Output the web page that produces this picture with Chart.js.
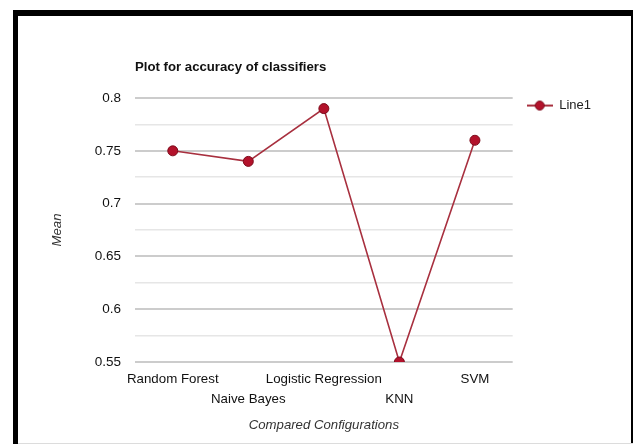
<!DOCTYPE html>
<html>
<head>
<meta charset="utf-8">
<script src="https://cdn.jsdelivr.net/npm/chart.js@4.4.1/dist/chart.umd.min.js"></script>
<style>
  html, body { margin: 0; padding: 0; background: #fff; }
  #wrap { position: relative; width: 633px; height: 444px; overflow: hidden; background: #fff; }
  #c { position: absolute; left: 0; top: 0; }
  #frame { position: absolute; left: 13px; top: 10px; width: 623px; height: 440px; box-sizing: border-box;
           border: 5px solid #000; border-top-width: 6px; border-bottom: none; pointer-events: none; }
  #base { position: absolute; left: 18px; top: 443px; width: 615px; height: 1px; background: #dcdcdc; }
</style>
</head>
<body>
<div id="wrap">
  <canvas id="c" width="633" height="444"></canvas>
  <div id="frame"></div>
  <div id="base"></div>
</div>
<script>
// Classifiers compared and their mean accuracy
const categories = ['Random Forest', 'Naive Bayes', 'Logistic Regression', 'KNN', 'SVM'];
const meanAccuracy = [0.75, 0.74, 0.79, 0.55, 0.76];
const seriesName = 'Line1';
// Labelled values on the y axis (unlabelled minor lines fall halfway between)
const yTickValues = [0.55, 0.6, 0.65, 0.7, 0.75, 0.8];

const FONT = '"Liberation Sans", Arial, Helvetica, sans-serif';
const LINE_COLOR = '#a8303f';
const POINT_FILL = '#b3122b';
const POINT_EDGE = '#7d0c1c';

// Alternate category labels between two rows so long names do not collide
const staggered = categories.map((c, i) => (i % 2 ? ['', c] : [c]));

// Legend symbol: short line with a dot in the middle
function legendSymbol() {
  const cv = document.createElement('canvas');
  cv.width = 26; cv.height = 12;
  const g = cv.getContext('2d');
  g.strokeStyle = LINE_COLOR; g.lineWidth = 2;
  g.beginPath(); g.moveTo(0, 6); g.lineTo(26, 6); g.stroke();
  g.fillStyle = POINT_FILL; g.strokeStyle = POINT_EDGE; g.lineWidth = 1;
  g.beginPath(); g.arc(13, 6, 4.5, 0, Math.PI * 2); g.fill(); g.stroke();
  return cv;
}

const isLabelled = v => yTickValues.some(t => Math.abs(t - v) < 1e-6);

// Title sits over the plot area; legend sits beside the top of it
const placeBlocks = {
  id: 'placeBlocks',
  afterLayout(chart) {
    const a = chart.chartArea;
    if (chart.titleBlock) chart.titleBlock.left = a.left;
    if (chart.legend) {
      chart.legend.left = a.right;
      chart.legend.top = a.top - 13;
    }
  }
};

new Chart(document.getElementById('c'), {
  type: 'line',
  data: {
    labels: staggered,
    datasets: [{
      label: seriesName,
      data: meanAccuracy,
      borderColor: LINE_COLOR,
      borderWidth: 1.6,
      backgroundColor: POINT_FILL,
      pointBackgroundColor: POINT_FILL,
      pointBorderColor: POINT_EDGE,
      pointBorderWidth: 1,
      pointRadius: 5,
      tension: 0,
      fill: false
    }]
  },
  plugins: [placeBlocks],
  options: {
    responsive: false,
    animation: false,
    devicePixelRatio: 1,
    layout: { padding: { left: 40, right: 32, top: 0, bottom: 0 } },
    plugins: {
      title: {
        display: true,
        text: 'Plot for accuracy of classifiers',
        align: 'start',
        color: '#111',
        font: { family: FONT, size: 13.2, weight: 'bold', lineHeight: 1.2 },
        padding: { top: 59, bottom: 23.2 }
      },
      legend: {
        display: true,
        position: 'right',
        align: 'start',
        labels: {
          usePointStyle: true,
          pointStyle: legendSymbol(),
          pointStyleWidth: 26,
          boxHeight: 12,
          padding: 14,
          color: '#222',
          font: { family: FONT, size: 13 }
        }
      },
      tooltip: { enabled: false }
    },
    scales: {
      x: {
        type: 'category',
        offset: true,
        grid: { display: false, drawTicks: false },
        border: { display: false },
        ticks: {
          autoSkip: false,
          maxRotation: 0,
          minRotation: 0,
          padding: 7,
          color: '#111',
          font: { family: FONT, size: 13.3, lineHeight: 1.5 }
        },
        title: {
          display: true,
          text: 'Compared Configurations',
          color: '#333',
          font: { family: FONT, size: 13.2, style: 'italic', lineHeight: 1.2 },
          padding: { top: 4, bottom: 11 }
        },
        afterFit(scale) { scale.height = 82; }
      },
      y: {
        min: 0.55,
        max: 0.8,
        grid: {
          drawTicks: false,
          color: ctx => (ctx.tick && isLabelled(ctx.tick.value) ? '#cccccc' : '#e6e6e6'),
          lineWidth: ctx => (ctx.tick && isLabelled(ctx.tick.value) ? 2 : 1.5)
        },
        border: { display: false },
        ticks: {
          stepSize: 0.025,
          autoSkip: false,
          padding: 14,
          color: '#111',
          font: { family: FONT, size: 13.5 },
          callback: v => (isLabelled(v) ? String(Number(v.toFixed(3))) : '')
        },
        title: {
          display: true,
          text: 'Mean',
          color: '#333',
          font: { family: FONT, size: 13.2, style: 'italic', lineHeight: 1.2 },
          padding: { top: 9, bottom: 4 }
        },
        afterFit(scale) { scale.width = 95; }
      }
    }
  }
});
</script>
</body>
</html>
